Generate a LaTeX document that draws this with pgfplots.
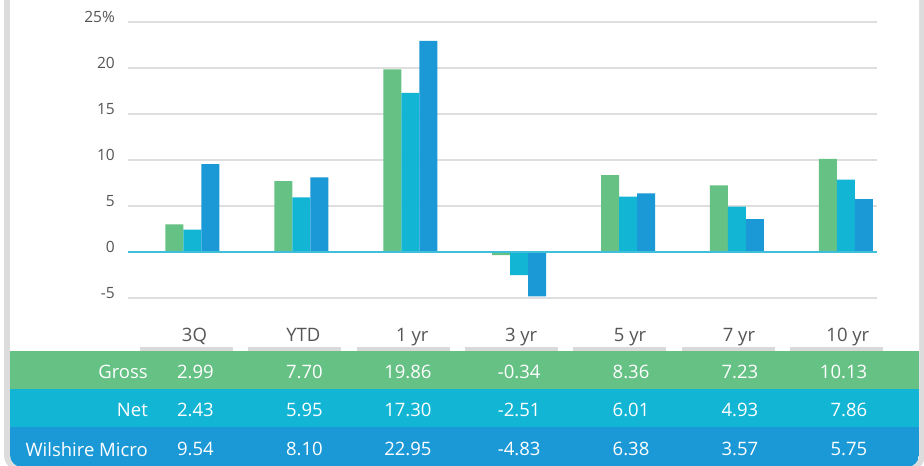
\documentclass[border=0pt]{standalone}
\usepackage{pgfplots}
\pgfplotsset{compat=1.18}
\usepackage{fontspec}
\setmainfont{Open Sans}
\definecolor{cgreen}{HTML}{66C185}
\definecolor{ccyan}{HTML}{13B5D5}
\definecolor{cblue}{HTML}{1B98D6}
\definecolor{gridc}{HTML}{DEDEDE}
\definecolor{framec}{HTML}{DCDCDC}
\definecolor{ulc}{HTML}{D9D9D9}
\definecolor{zeroc}{HTML}{3FBFDA}
\definecolor{txt}{HTML}{555555}
\newcommand{\bigtxt}{\fontsize{18.5}{20}\selectfont}
\begin{document}
\begin{tikzpicture}
\begin{scope}[x=1pt,y=-1pt]
\path[use as bounding box] (0,0) rectangle (924,466);
% frame
\fill[framec, rounded corners=16pt] (4,-40) rectangle (925,471);
\fill[white, rounded corners=12pt] (10,-40) rectangle (919,467);
\begin{scope}
\clip[rounded corners=12pt] (10,-40) rectangle (919,467);
\fill[cgreen] (10,351) rectangle (919,389);
\fill[ccyan] (10,389) rectangle (919,427);
\fill[cblue] (10,427) rectangle (919,470);
\end{scope}
% underlines below category labels
\foreach \i in {0,...,6}{
  \fill[ulc] ({140+108.33*\i},347) rectangle ({233+108.33*\i},351);
}
\end{scope}
\begin{axis}[
  at={(128pt,-298pt)}, anchor=south west,
  scale only axis, width=749pt, height=276pt,
  xmin=-0.592, xmax=6.286, ymin=-5, ymax=25,
  clip=false,
  axis line style={draw=none},
  major tick length=0pt,
  ytick={-5,0,5,10,15,20,25},
  yticklabels={-5,0,5,10,15,20,25\%},
  ymajorgrids, grid style={gridc, line width=1.3pt},
  yticklabel style={anchor=base east, inner sep=0pt, xshift=-13pt, text=txt,
    font=\fontsize{15.5}{17}\selectfont},
  xtick={0,...,6},
  xticklabels={3Q,YTD,1 yr,3 yr,5 yr,7 yr,10 yr},
  xticklabel style={anchor=base, inner sep=0pt, yshift=-43pt, xshift=2pt, text=txt, font=\bigtxt},
  /pgf/number format/assume math mode=true,
]
\addplot[ybar, bar width=18pt, bar shift=-18pt, fill=cgreen, draw=none]
  coordinates {(0,2.99) (1,7.70) (2,19.86) (3,-0.34) (4,8.36) (5,7.23) (6,10.13)};
\addplot[ybar, bar width=18pt, bar shift=0pt, fill=ccyan, draw=none]
  coordinates {(0,2.43) (1,5.95) (2,17.30) (3,-2.51) (4,6.01) (5,4.93) (6,7.86)};
\addplot[ybar, bar width=18pt, bar shift=18pt, fill=cblue, draw=none]
  coordinates {(0,9.54) (1,8.10) (2,22.95) (3,-4.83) (4,6.38) (5,3.57) (6,5.75)};
\draw[zeroc, line width=2.5pt] (axis cs:-0.592,0) -- (axis cs:6.286,0);
% table values
\pgfplotsset{tablerow/.style={only marks, mark=none, point meta=explicit symbolic,
  nodes near coords, nodes near coords align={anchor=base east},
  nodes near coords style={anchor=base east, inner sep=0pt, xshift=21.5pt, text=white, font=\bigtxt}}}
\addplot[tablerow] coordinates {(0,-13.7)[2.99] (1,-13.7)[7.70] (2,-13.7)[19.86] (3,-13.7)[-0.34] (4,-13.7)[8.36] (5,-13.7)[7.23] (6,-13.7)[10.13]};
\addplot[tablerow] coordinates {(0,-17.9)[2.43] (1,-17.9)[5.95] (2,-17.9)[17.30] (3,-17.9)[-2.51] (4,-17.9)[6.01] (5,-17.9)[4.93] (6,-17.9)[7.86]};
\addplot[tablerow] coordinates {(0,-22.17)[9.54] (1,-22.17)[8.10] (2,-22.17)[22.95] (3,-22.17)[-4.83] (4,-22.17)[6.38] (5,-22.17)[3.57] (6,-22.17)[5.75]};
\end{axis}
\begin{scope}[x=1pt,y=-1pt]
\node[anchor=base east, inner sep=0pt, text=white, font=\bigtxt] at (148,378) {Gross};
\node[anchor=base east, inner sep=0pt, text=white, font=\bigtxt] at (148,416.7) {Net};
\node[anchor=base east, inner sep=0pt, text=white, font=\bigtxt] at (148,456) {Wilshire Micro};
\end{scope}
\end{tikzpicture}
\end{document}
